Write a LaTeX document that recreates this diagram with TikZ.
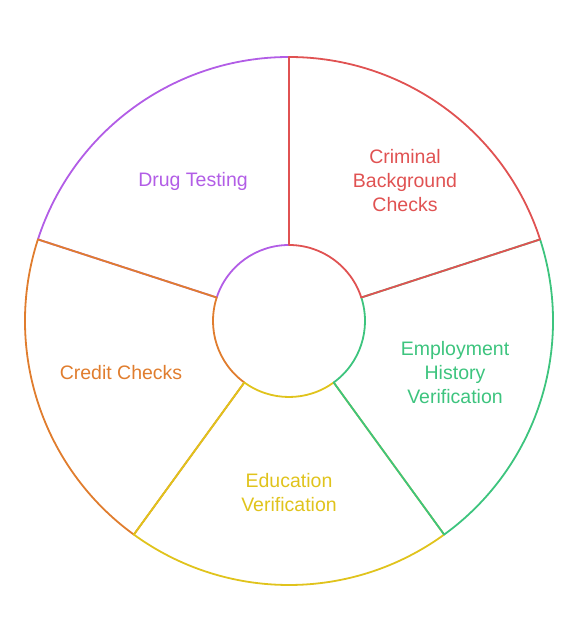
\documentclass[tikz,border=0pt]{standalone}
\usepackage{fontspec}
\setmainfont{Liberation Sans}
\usetikzlibrary{calc}
\definecolor{cred}{HTML}{E05252}
\definecolor{cgreen}{HTML}{3DC47E}
\definecolor{cyellow}{HTML}{E0C31C}
\definecolor{corange}{HTML}{E07D2E}
\definecolor{cpurple}{HTML}{B25DE6}
\tikzset{
  seg/.style={line width=1.8bp, line join=round},
  lbl/.style={font=\fontsize{19.5bp}{24bp}\selectfont, align=center, inner sep=0pt}
}
\begin{document}
\begin{tikzpicture}[x=1bp,y=1bp]
\useasboundingbox (0,0) rectangle (579,636);
\coordinate (C) at (289,315);
\def\Ro{264}
\def\Ri{76}
\foreach \a/\col in {162/cpurple, 234/corange, 306/cyellow, 378/cgreen, 450/cred}{
  \draw[seg, \col] ($(C)+(\a:\Ri)$) -- ($(C)+(\a:\Ro)$)
    arc[start angle=\a, end angle=\a-72, radius=\Ro]
    -- ($(C)+(\a-72:\Ri)$)
    arc[start angle=\a-72, end angle=\a, radius=\Ri] -- cycle;
}
\node[lbl, text=cpurple] (drug) at (193,455) {Drug Testing};
\node[lbl, text=cred] (crim) at (405,455) {Criminal\\Background\\Checks};
\node[lbl, text=cgreen] (emp) at (455,263) {Employment\\History\\Verification};
\node[lbl, text=corange] (cred) at (121,263) {Credit Checks};
\node[lbl, text=cyellow] (edu) at (289,143) {Education\\Verification};
\end{tikzpicture}
\end{document}
